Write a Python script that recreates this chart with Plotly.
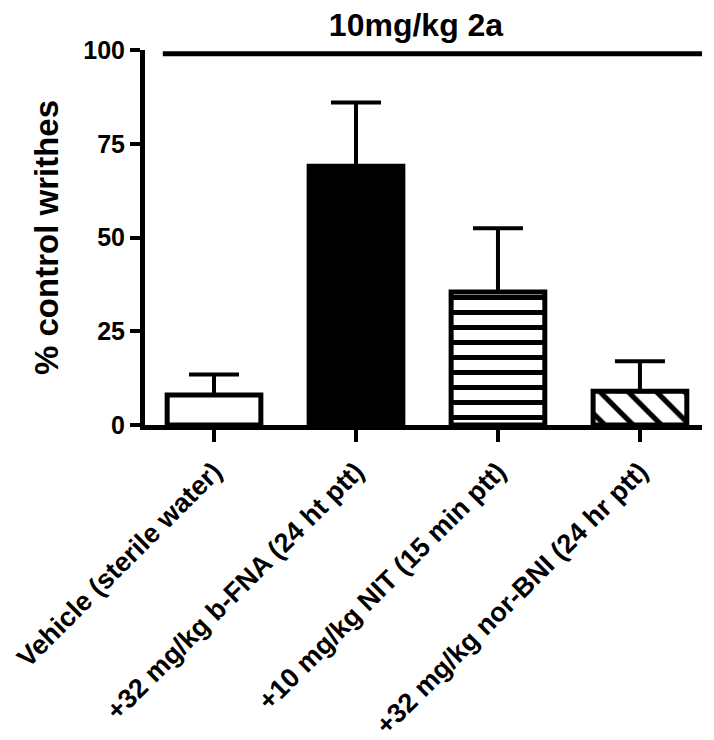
import plotly.graph_objects as go

# ---- data ----
categories = [
    "Vehicle (sterile water)",
    "+32 mg/kg b-FNA (24 ht ptt)",
    "+10 mg/kg NIT (15 min ptt)",
    "+32 mg/kg nor-BNI (24 hr ptt)",
]
mean_values = [8.0, 69.0, 35.5, 9.0]
sem_values = [5.5, 17.0, 17.0, 8.0]
control_level = 99
y_ticks = [0, 25, 50, 75, 100]
title_text = "10mg/kg 2a"
y_title = "% control writhes"

# ---- styling ----
FONT = "Liberation Sans, Arial, sans-serif"
fills = ["white", "black", "black", "black"]
pattern_shapes = ["", "", "-", "\\"]
pattern_sizes = [8, 8, 15, 20]
pattern_solid = [0.3, 0.3, 0.33, 0.26]

W, H = 706, 732  # page adds an 8px body margin

fig = go.Figure()
fig.add_trace(go.Bar(
    x=categories,
    y=mean_values,
    width=0.66,
    marker=dict(
        color=fills,
        line=dict(color="black", width=5),
        pattern=dict(
            shape=pattern_shapes,
            size=pattern_sizes,
            solidity=pattern_solid,
            fgcolor="#000000",
            bgcolor="#ffffff",
            fgopacity=1,
            fillmode="replace",
        ),
    ),
    error_y=dict(
        type="data",
        symmetric=False,
        array=sem_values,
        arrayminus=[0] * len(sem_values),
        color="black",
        thickness=4,
        width=25,
    ),
    showlegend=False,
))

fig.add_shape(
    type="line", xref="paper", yref="y",
    x0=0.032, x1=1.0, y0=control_level, y1=control_level,
    line=dict(color="black", width=5),
)

fig.update_layout(
    width=W, height=H,
    margin=dict(l=137, r=12, t=42, b=315, autoexpand=False),
    paper_bgcolor="white", plot_bgcolor="white",
    font=dict(family=FONT, color="black"),
    title=dict(
        text=title_text, x=408 / W, xref="container", xanchor="center",
        y=1 - 6 / H, yref="container", yanchor="top",
        font=dict(family=FONT, size=32, color="black", weight="bold"),
    ),
)
fig.update_xaxes(
    type="category",
    range=[-0.486, 3.437],
    showline=True, linecolor="black", linewidth=5,
    ticks="outside", ticklen=12, tickwidth=4, tickcolor="black",
    tickangle=-45, ticklabelstandoff=3,
    tickfont=dict(family=FONT, size=27, color="black", weight="bold"),
    showgrid=False, zeroline=False, automargin=False,
)
fig.update_yaxes(
    range=[0, 100],
    tickvals=y_ticks,
    showline=True, linecolor="black", linewidth=5,
    ticks="outside", ticklen=10, tickwidth=4, tickcolor="black",
    tickfont=dict(family=FONT, size=25, color="black", weight="bold"),
    title=dict(text=y_title, standoff=16,
               font=dict(family=FONT, size=33, color="black", weight="bold")),
    showgrid=False, zeroline=False, automargin=False,
)

fig.write_html("out.html")
